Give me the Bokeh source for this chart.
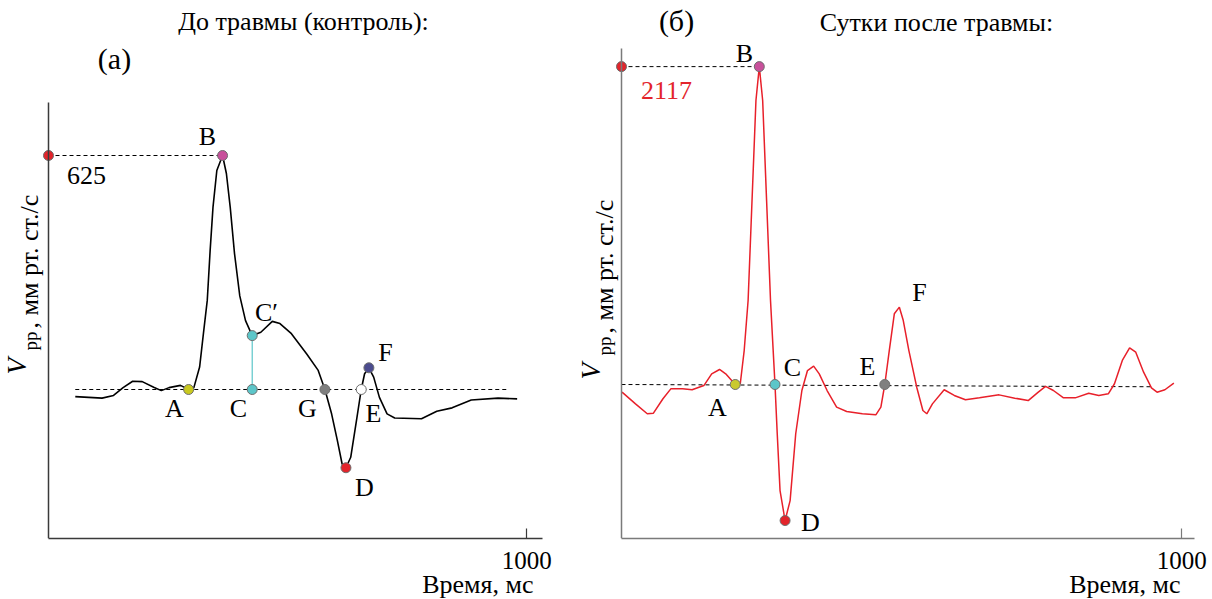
import math
from bokeh.plotting import figure
from bokeh.models import Range1d, FixedTicker, Label, ColumnDataSource, Title
from bokeh.layouts import row
from bokeh.embed import file_html
from bokeh.resources import INLINE

FONT = "Liberation Serif"

# ---------------- Panel (а): before trauma (control) ----------------
time_a = [56, 112, 136, 156, 176, 196, 220, 236, 252, 276,
          293, 304, 316, 324, 332, 338, 344, 352, 364, 372,
          380, 389, 400, 412, 426, 444, 468, 484, 508, 540,
          564, 578, 592, 604, 614, 622, 632, 644, 654, 661,
          670, 680, 692, 708, 724, 780, 812, 844, 884, 940, 980]
vpp_a = [-19, -23, -16, 5, 22, 21, 6, -3, 5, 11,
         0, 5, 60, 150, 238, 371, 487, 585, 625, 577,
         487, 363, 250, 184, 144, 153, 182, 176, 149, 95,
         51, 0, -65, -136, -199, -209, -181, -83, 0, 42,
         58, 33, -21, -65, -76, -78, -58, -49, -28, -23, -25]
pts_a_names = ["A", "B", "C", "C′", "G", "D", "E", "F"]
pts_a_time = [293, 364, 426, 426, 578, 622, 654, 670]
pts_a_vpp = [0, 625, 0, 144, 0, -209, 0, 58]
pts_a_color = ["#c9c91f", "#c8509b", "#5cc6c9", "#5cc6c9", "#7f7f7f", "#e3242b", "#ffffff", "#4c4c8e"]
base_a_time = [56, 960]
base_a_vpp = [0, 0]
peak_a = 625

# ---------------- Panel (б): one day after trauma ----------------
time_b = [1, 25, 46, 57, 74, 88, 109, 126, 147, 161,
          175, 186, 203, 212, 219, 226, 233, 240, 246, 252,
          259, 266, 274, 278, 283, 292, 301, 311, 322, 332,
          343, 353, 367, 384, 402, 430, 454, 463, 470, 478,
          487, 496, 503, 513, 527, 538, 545, 555, 576, 594,
          614, 639, 674, 702, 726, 744, 757, 771, 789, 810,
          834, 852, 869, 880, 894, 907, 918, 932, 946, 956, 970, 986]
vpp_b = [-51, -129, -195, -191, -95, -29, -29, -35, -7, 71,
         100, 71, 0, 5, 226, 559, 1225, 1891, 2117, 1891,
         1225, 559, 0, -328, -706, -906, -773, -328, -40, 93,
         122, 71, -40, -151, -180, -195, -202, -151, 0, 226,
         471, 515, 426, 226, -18, -173, -195, -129, -35, -73,
         -102, -89, -69, -91, -107, -51, -13, -40, -89, -89,
         -58, -73, -62, 5, 160, 244, 215, 82, -22, -51, -35, 9]
pts_b_names = ["A", "B", "C", "D", "E"]
pts_b_time = [203, 246, 274, 292, 470]
pts_b_vpp = [0, 2117, 0, -906, 0]
pts_b_color = ["#c9c92e", "#c8509b", "#5cc6c9", "#e3242b", "#808080"]
base_b_time = [0, 946]
base_b_vpp = [0, -15]
peak_b = 2117

x_tick = 1000
x_title = "Время, мс"

H = 599
FRAME_BOTTOM = 538
TXT = 26


def make_panel(width, off, x0_px, px_per_ms, y0_px, px_per_unit,
               axis_top_px, axis_right_px, axis_color, title_right_px):
    """Frame spans the canvas except the bottom axis/title strip."""
    def dx(px):
        return (px - x0_px) / px_per_ms

    def dy(py):
        return (y0_px - py) / px_per_unit

    p = figure(width=width, height=H, output_backend="svg", toolbar_location=None,
               x_range=Range1d(dx(off), dx(off + width)),
               y_range=Range1d(dy(FRAME_BOTTOM), dy(0)),
               min_border_left=0, min_border_right=0, min_border_top=0,
               min_border_bottom=H - FRAME_BOTTOM)
    p.outline_line_color = None
    p.grid.visible = False
    p.background_fill_color = "white"
    p.border_fill_color = "white"

    xa = p.xaxis[0]
    xa.ticker = FixedTicker(ticks=[x_tick])
    xa.bounds = (0, dx(axis_right_px))
    xa.axis_line_color = axis_color
    xa.axis_line_width = 1.5
    xa.major_tick_line_color = axis_color
    xa.major_tick_line_width = 1.2
    xa.major_tick_in = 10
    xa.major_tick_out = 0
    xa.minor_tick_line_color = None
    xa.major_label_standoff = 13
    xa.major_label_text_font = FONT
    xa.major_label_text_font_size = "25px"
    xa.major_label_text_color = "black"

    ya = p.yaxis[0]
    ya.fixed_location = 0
    ya.ticker = FixedTicker(ticks=[])
    ya.bounds = (dy(FRAME_BOTTOM), dy(axis_top_px))
    ya.axis_line_color = axis_color
    ya.axis_line_width = 1.5
    ya.major_tick_out = 0
    ya.major_tick_in = 0
    ya.minor_tick_line_color = None
    ya.major_label_standoff = 0

    t = Title(text=x_title, align="right", offset=width - (title_right_px - off),
              standoff=-7, text_font=FONT, text_font_size=f"{TXT}px", text_font_style="normal",
              text_color="black")
    p.add_layout(t, "below")
    return p, dx, dy


def txt(p, dx, dy, px, py, text, size=TXT, align="center", color="black", style="normal",
        rotated=False):
    # px, py: baseline anchor in page pixels; compensate Bokeh's baseline placement
    shift = 0.36 * size
    if rotated:
        x, y, ang = dx(px - shift), dy(py), math.pi / 2
    else:
        x, y, ang = dx(px), dy(py - shift), 0.0
    p.add_layout(Label(x=x, y=y, text=text, text_font=FONT, text_font_size=f"{size}px",
                       text_align=align, text_baseline="alphabetic", text_color=color,
                       text_font_style=style, angle=ang, angle_units="rad"))


def ylabel(p, dx, dy, vx, vy, px_, py_, mx, my):
    txt(p, dx, dy, vx, vy, "V", size=27, align="left", style="italic", rotated=True)
    txt(p, dx, dy, px_, py_, "pp", size=19, align="left", rotated=True)
    txt(p, dx, dy, mx, my, ", мм рт. ст./с", size=TXT, align="left", rotated=True)


# ---------------- build panel (а) ----------------
pa, dxa, dya = make_panel(575, 0, 48, 0.4782, 389, 0.3744, 102, 541.5, "#3a3a3a", 533)
pa.line(base_a_time, base_a_vpp, line_color="black", line_width=1, line_dash="4 3")
pa.line([0, pts_a_time[1]], [peak_a, peak_a], line_color="black", line_width=1, line_dash="4 3")
pa.line([pts_a_time[2], pts_a_time[3]], [pts_a_vpp[2], pts_a_vpp[3]], line_color="#5cc6c9", line_width=1.2)
pa.line(time_a, vpp_a, line_color="black", line_width=1.6)
pa.scatter([0], [peak_a], size=10, fill_color="#e3242b", line_color="#6e6e6e", line_width=1)
src_a = ColumnDataSource(dict(x=pts_a_time, y=pts_a_vpp, c=pts_a_color))
pa.scatter("x", "y", source=src_a, size=10, fill_color="c", line_color="#6e6e6e", line_width=1)

lab_a_px = {"A": (174, 417), "B": (207, 145), "C": (238, 417), "C′": (266, 321),
            "G": (307, 417), "D": (364, 496), "E": (373, 422), "F": (385, 361)}
for n in pts_a_names:
    lx, ly = lab_a_px[n]
    txt(pa, dxa, dya, lx, ly, n)
txt(pa, dxa, dya, 86, 184, str(peak_a))
txt(pa, dxa, dya, 114, 69, "(а)", size=30)
txt(pa, dxa, dya, 303, 30, "До травмы (контроль):")
ylabel(pa, dxa, dya, 26, 374, 37, 350, 38, 328)

# ---------------- build panel (б) ----------------
OFF_B = 575
pb, dxb, dyb = make_panel(1212 - OFF_B, OFF_B, 621, 0.5602, 384, 0.15016, 48, 1194, "#7a7a7a", 1180)

pb.line(base_b_time, base_b_vpp, line_color="black", line_width=1, line_dash="4 3")
pb.line([0, pts_b_time[1]], [peak_b, peak_b], line_color="black", line_width=1, line_dash="4 3")
pb.line(time_b, vpp_b, line_color="#e8202a", line_width=1.5)
pb.scatter([0], [peak_b], size=10, fill_color="#e3242b", line_color="#6e6e6e", line_width=1)
src_b = ColumnDataSource(dict(x=pts_b_time, y=pts_b_vpp, c=pts_b_color))
pb.scatter("x", "y", source=src_b, size=10, fill_color="c", line_color="#6e6e6e", line_width=1)

lab_b_px = {"A": (717, 416), "B": (744, 62), "C": (792, 376), "D": (810, 531),
            "E": (867, 375)}
for n in pts_b_names:
    lx, ly = lab_b_px[n]
    txt(pb, dxb, dyb, lx, ly, n)
txt(pb, dxb, dyb, 919, 301, "F")
txt(pb, dxb, dyb, 666, 99, str(peak_b), color="#e3242b")
txt(pb, dxb, dyb, 676, 31, "(б)", size=30)
txt(pb, dxb, dyb, 936, 31, "Сутки после травмы:")
ylabel(pb, dxb, dyb, 600, 379, 611, 355, 613, 333)

layout = row(pa, pb, spacing=0)
open("out.html", "w").write(file_html(layout, INLINE))
